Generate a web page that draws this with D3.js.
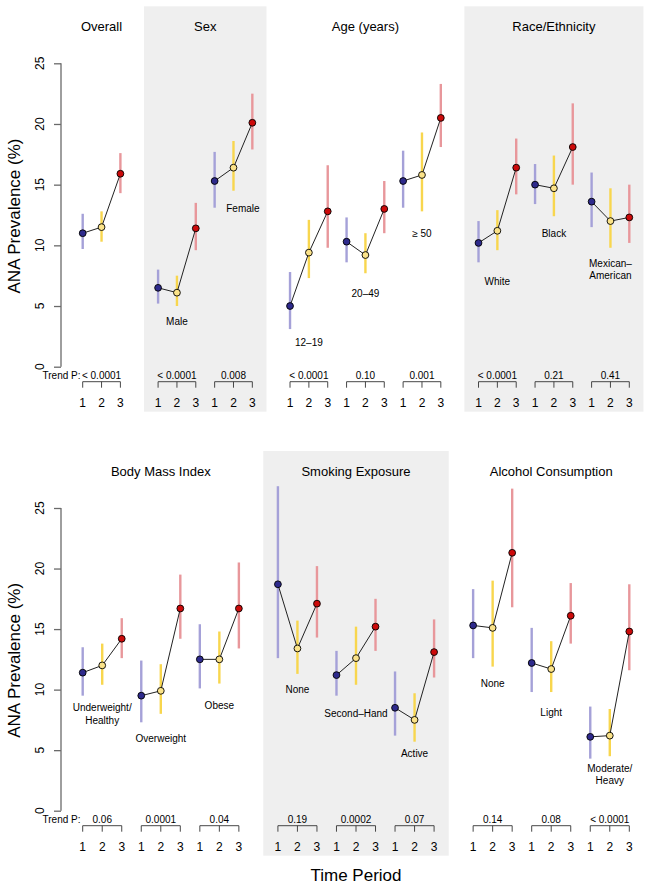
<!DOCTYPE html>
<html>
<head>
<meta charset="utf-8">
<script src="https://cdn.jsdelivr.net/npm/d3@7"></script>
<style>
  html, body { margin: 0; padding: 0; background: #fff; }
  svg text { font-family: "Liberation Sans", Arial, Helvetica, sans-serif; fill: #000; }
</style>
</head>
<body>
<svg id="chart" width="650" height="885"></svg>
<script>
// ---------------- DATA ----------------
const periods = ["1", "2", "3"];
const yTicks = [0, 5, 10, 15, 20, 25];

// Top row
const topPanelTitles = ["Overall", "Sex", "Age (years)", "Race/Ethnicity"];
const topPanelGroupCounts = [1, 2, 3, 3];
const topGroupNames = ["", "Male", "Female", "12\u201319", "20\u201349", "\u2265 50", "White", "Black", "Mexican\u2013\nAmerican"];
const topEstimate = [
  [11.0, 11.5, 15.9],
  [6.5, 6.1, 11.4],
  [15.3, 16.4, 20.1],
  [5.0, 9.4, 12.8],
  [10.3, 9.2, 13.0],
  [15.3, 15.8, 20.5],
  [10.2, 11.2, 16.4],
  [15.0, 14.7, 18.1],
  [13.6, 12.0, 12.3]
];
const topLower = [
  [9.7, 10.3, 14.3],
  [5.2, 5.0, 9.6],
  [13.1, 14.5, 17.9],
  [3.1, 7.3, 9.8],
  [8.6, 7.7, 11.0],
  [13.1, 12.8, 18.1],
  [8.6, 9.6, 14.2],
  [13.4, 12.4, 15.0],
  [11.5, 9.8, 10.2]
];
const topUpper = [
  [12.6, 12.8, 17.6],
  [8.0, 7.5, 13.5],
  [17.7, 18.6, 22.5],
  [7.8, 12.1, 16.6],
  [12.3, 11.0, 15.3],
  [17.8, 19.3, 23.3],
  [12.0, 12.9, 18.8],
  [16.7, 17.4, 21.7],
  [16.0, 14.7, 15.0]
];
const topTrendP = ["< 0.0001", "< 0.0001", "0.008", "< 0.0001", "0.10", "0.001", "< 0.0001", "0.21", "0.41"];
// label anchor in data units (y) and x shift in period steps
const topLabelY = [null, 3.7, 13.0, 2.0, 6.0, 11.0, 7.0, 11.0, 8.0];
const topLabelDx = [0, 0, 0.5, 0, 0, 0, 0, 0, 0];

// Bottom row
const botPanelTitles = ["Body Mass Index", "Smoking Exposure", "Alcohol Consumption"];
const botPanelGroupCounts = [3, 3, 3];
const botGroupNames = ["Underweight/\nHealthy", "Overweight", "Obese", "None", "Second\u2013Hand", "Active", "None", "Light", "Moderate/\nHeavy"];
const botEstimate = [
  [11.4, 12.0, 14.2],
  [9.5, 9.9, 16.7],
  [12.5, 12.5, 16.7],
  [18.7, 13.4, 17.1],
  [11.2, 12.6, 15.2],
  [8.5, 7.5, 13.1],
  [15.3, 15.1, 21.3],
  [12.2, 11.7, 16.1],
  [6.1, 6.2, 14.8]
];
const botLower = [
  [9.5, 10.4, 12.6],
  [7.3, 8.0, 14.2],
  [10.1, 10.5, 13.4],
  [12.6, 11.3, 14.3],
  [9.5, 10.4, 13.2],
  [6.2, 5.7, 11.0],
  [12.6, 11.9, 16.8],
  [9.8, 9.8, 13.8],
  [4.3, 4.5, 11.6]
];
const botUpper = [
  [13.5, 13.8, 15.9],
  [12.4, 12.1, 19.5],
  [15.4, 14.8, 20.5],
  [26.8, 15.7, 20.2],
  [13.2, 15.2, 17.5],
  [11.5, 9.7, 15.8],
  [18.3, 19.0, 26.6],
  [15.1, 14.0, 18.8],
  [8.6, 8.4, 18.7]
];
const botTrendP = ["0.06", "0.0001", "0.04", "0.19", "0.0002", "0.07", "0.14", "0.08", "< 0.0001"];
const botLabelY = [8.0, 6.0, 8.7, 10.0, 8.0, 4.7, 10.5, 8.1, 3.0];
const botLabelDx = [0, 0, 0, 0, 0, 0, 0, 0, 0];

// ---------------- STYLE ----------------
const pointFill = ["#2e2a8c", "#fbe38a", "#cc0a0a"];
const ciColor = ["#a5a1d8", "#f8d64e", "#e8979b"];
const shadeColor = "#efefef";

const svg = d3.select("#chart");

function drawRow(cfg) {
  const g = svg.append("g");
  const y = d3.scaleLinear().domain([0, 25]).range([cfg.y0, cfg.y25]);

  // compute positions (index) per group: consecutive within panel, one gap between panels
  const groups = [];
  const panels = [];
  let idx = 0, gi = 0;
  cfg.counts.forEach((n, pi) => {
    const start = idx;
    for (let k = 0; k < n; k++) {
      groups.push({ gi: gi, pi: pi, start: idx });
      idx += 3; gi++;
    }
    panels.push({ pi: pi, first: start, last: idx - 1 });
    idx += 1;
  });
  const lastIdx = idx - 2;
  const x = d3.scaleLinear().domain([0, lastIdx]).range([82.7, 629.3]);
  const step = x(1) - x(0);

  // shading
  panels.filter(p => cfg.shaded.includes(p.pi)).forEach(p => {
    g.append("rect")
      .attr("x", x(p.first - 0.75))
      .attr("width", x(p.last + 0.75) - x(p.first - 0.75))
      .attr("y", y(25) - 57)
      .attr("height", y(0) + 45 - (y(25) - 57))
      .attr("fill", shadeColor);
  });

  // panel titles
  panels.forEach(p => {
    g.append("text")
      .attr("x", x((p.first + p.last) / 2))
      .attr("y", y(25) - 37)
      .attr("dy", "0.35em")
      .attr("text-anchor", "middle")
      .attr("font-size", 13)
      .text(cfg.titles[p.pi]);
  });

  // y axis
  const axis = d3.axisLeft(y).tickValues(yTicks).tickSize(7).tickFormat("");
  const ag = g.append("g").attr("transform", "translate(61,0)").call(axis);
  ag.selectAll("path, line").attr("stroke", "#6a6a6a").attr("stroke-width", 1.3);
  ag.select(".domain").attr("d", `M0,${y(0)}V${y(25)}`);
  yTicks.forEach(v => {
    g.append("text")
      .attr("transform", `translate(40,${y(v)}) rotate(-90)`)
      .attr("text-anchor", "middle")
      .attr("dy", "0.35em")
      .attr("font-size", 12)
      .text(v);
  });

  // y axis title
  g.append("text")
    .attr("transform", `translate(20,${(y(0) + y(25)) / 2 + 1}) rotate(-90)`)
    .attr("text-anchor", "middle")
    .attr("font-size", 17)
    .text("ANA Prevalence (%)");

  // Trend P label
  g.append("text")
    .attr("x", 80.5)
    .attr("y", y(0) + 8.3)
    .attr("dy", "0.35em")
    .attr("text-anchor", "end")
    .attr("font-size", 10)
    .text("Trend P:");

  groups.forEach(gr => {
    const i = gr.gi;
    const est = cfg.est[i], lo = cfg.lo[i], hi = cfg.hi[i];
    const xs = [0, 1, 2].map(k => x(gr.start + k));

    // CIs
    [0, 1, 2].forEach(k => {
      g.append("line")
        .attr("x1", xs[k]).attr("x2", xs[k])
        .attr("y1", y(lo[k])).attr("y2", y(hi[k]))
        .attr("stroke", ciColor[k])
        .attr("stroke-width", 2.4);
    });
    // connecting line
    const line = d3.line().x((d, k) => xs[k]).y(d => y(d));
    g.append("path")
      .attr("d", line(est))
      .attr("fill", "none")
      .attr("stroke", "#222")
      .attr("stroke-width", 1);
    // points
    [0, 1, 2].forEach(k => {
      g.append("circle")
        .attr("cx", xs[k]).attr("cy", y(est[k]))
        .attr("r", 3.4)
        .attr("fill", pointFill[k])
        .attr("stroke", "#000")
        .attr("stroke-width", 0.9);
    });

    // group label
    if (cfg.labelY[i] !== null && cfg.names[i]) {
      const lines = cfg.names[i].split("\n");
      const lx = x(gr.start + 1 + cfg.labelDx[i]);
      const ly = y(cfg.labelY[i]);
      const lh = 12.6;
      lines.forEach((t, li) => {
        g.append("text")
          .attr("x", lx)
          .attr("y", ly + (li - (lines.length - 1) / 2) * lh)
          .attr("dy", "0.35em")
          .attr("text-anchor", "middle")
          .attr("font-size", 10)
          .text(t);
      });
    }

    // trend P value
    g.append("text")
      .attr("x", xs[1])
      .attr("y", y(0) + 8.3)
      .attr("dy", "0.35em")
      .attr("text-anchor", "middle")
      .attr("font-size", 10)
      .text(cfg.p[i]);

    // bracket
    const by = y(0) + 15;
    g.append("path")
      .attr("d", `M${xs[0]},${by + 6}V${by}H${xs[2]}V${by + 6}M${xs[1]},${by}V${by + 6}`)
      .attr("fill", "none")
      .attr("stroke", "#333")
      .attr("stroke-width", 0.9);

    // period tick labels
    [0, 1, 2].forEach(k => {
      g.append("text")
        .attr("x", xs[k])
        .attr("y", y(0) + 36.5)
        .attr("dy", "0.35em")
        .attr("text-anchor", "middle")
        .attr("font-size", 12)
        .text(periods[k]);
    });
  });
}

drawRow({
  y0: 366.7, y25: 63.3,
  titles: topPanelTitles, counts: topPanelGroupCounts, names: topGroupNames,
  est: topEstimate, lo: topLower, hi: topUpper, p: topTrendP,
  labelY: topLabelY, labelDx: topLabelDx, shaded: [1, 3]
});
drawRow({
  y0: 810.7, y25: 508,
  titles: botPanelTitles, counts: botPanelGroupCounts, names: botGroupNames,
  est: botEstimate, lo: botLower, hi: botUpper, p: botTrendP,
  labelY: botLabelY, labelDx: botLabelDx, shaded: [1]
});

svg.append("text")
  .attr("x", 356)
  .attr("y", 875)
  .attr("dy", "0.35em")
  .attr("text-anchor", "middle")
  .attr("font-size", 17)
  .text("Time Period");
</script>
</body>
</html>
